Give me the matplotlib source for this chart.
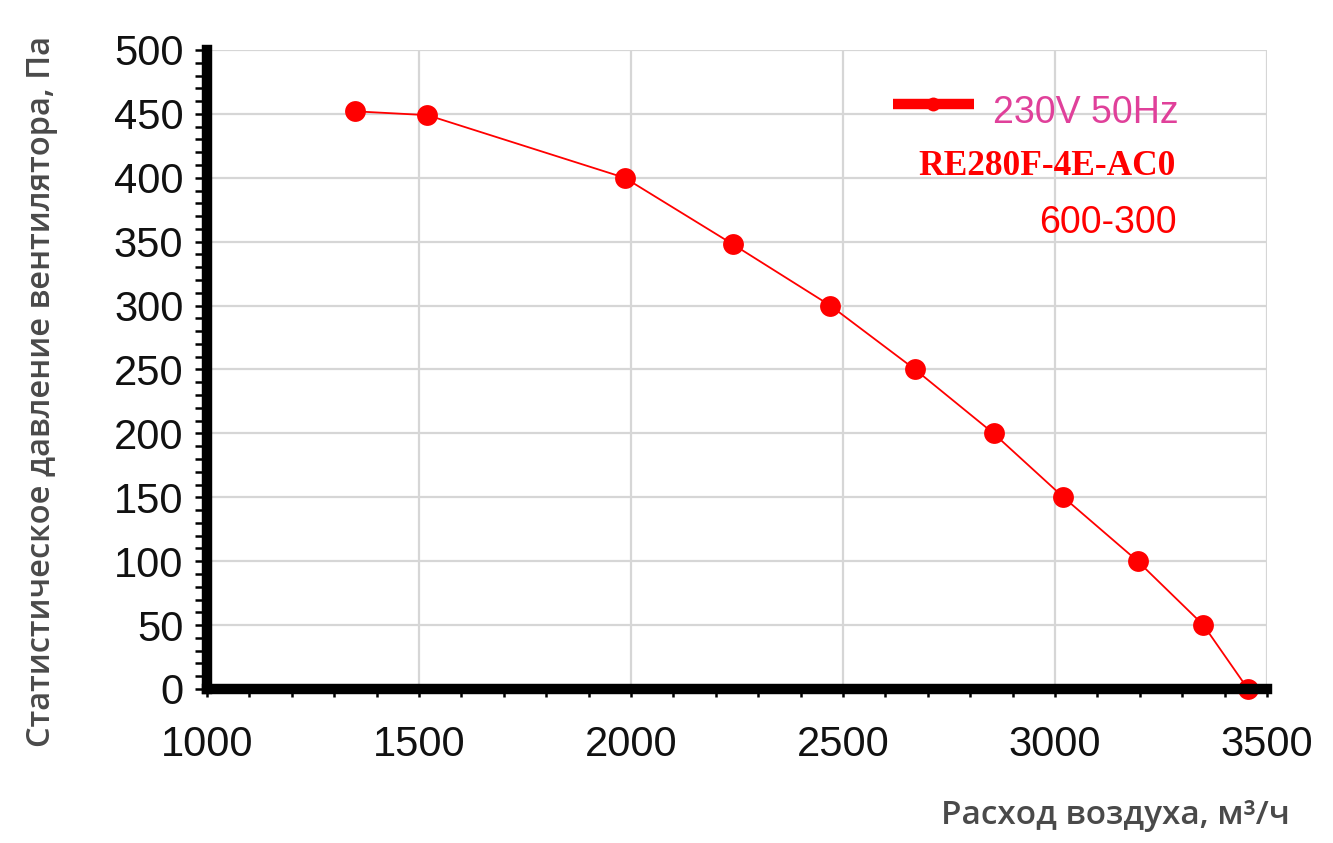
import matplotlib.pyplot as plt
from matplotlib.ticker import MultipleLocator

# Точки характеристики вентилятора RE280F-4E-AC0 (230V 50Hz)
rashod = [1350, 1520, 1985, 2240, 2470, 2670, 2855, 3020, 3195, 3350, 3455]
davlenie = [452, 449, 400, 348, 300, 250, 200, 150, 100, 50, 0]

x_ticks = [1000, 1500, 2000, 2500, 3000, 3500]
y_ticks = [0, 50, 100, 150, 200, 250, 300, 350, 400, 450, 500]

fig = plt.figure(figsize=(13.33, 8.43), dpi=100)
ax = fig.add_axes([0.1553, 0.1827, 0.7952, 0.758])

ax.plot(rashod, davlenie, color='#ff0000', linewidth=1.3, marker='o',
        markersize=15, markeredgewidth=0, zorder=3, clip_on=False)

ax.set_xlim(1000, 3500)
ax.set_ylim(0, 500)
ax.set_xticks(x_ticks)
ax.set_yticks(y_ticks)
ax.xaxis.set_minor_locator(MultipleLocator(100))
ax.yaxis.set_minor_locator(MultipleLocator(10))

ax.grid(True, which='major', color='#d6d6d6', linewidth=1.6, zorder=0)
ax.set_axisbelow(True)

for s in ['top', 'right']:
    ax.spines[s].set_visible(False)
for s in ['left', 'bottom']:
    ax.spines[s].set_linewidth(7.5)
    ax.spines[s].set_color('black')
    ax.spines[s].set_zorder(4)

ax.tick_params(axis='y', which='both', direction='out', length=9, width=1.8,
               pad=8, labelsize=30, color='black')
ax.tick_params(axis='x', which='both', direction='out', length=6, width=1.8,
               pad=20, labelsize=30, color='black')
for lbl in ax.get_xticklabels() + ax.get_yticklabels():
    lbl.set_family('Liberation Sans')
    lbl.set_color('#111111')

# Подписи осей
fig.text(0.031, 0.535, 'Статистическое давление вентилятора, Па', rotation=90,
         ha='center', va='center', fontsize=23.5, fontweight='semibold',
         family='Open Sans', color='#4a4a4a')
fig.text(0.968, 0.022, 'Расход воздуха, м³/ч', ha='right', va='baseline',
         fontsize=24, fontweight='semibold', family='Open Sans', color='#4a4a4a')

# Легенда
fig.add_artist(plt.Line2D([0.670, 0.731], [0.877, 0.877], color='#ff0000',
                          linewidth=7.5, solid_capstyle='butt'))
fig.add_artist(plt.Line2D([0.700], [0.877], color='#ff0000', marker='o',
                          markersize=10, markeredgewidth=0))
fig.text(0.884, 0.854, '230V 50Hz', ha='right', va='baseline', fontsize=27,
         family='Liberation Sans', color='#e0409a')
fig.text(0.882, 0.792, 'RE280F-4E-AC0', ha='right', va='baseline', fontsize=25.5,
         family='Liberation Serif', fontweight='bold', color='#ff0000')
fig.text(0.883, 0.724, '600-300', ha='right', va='baseline', fontsize=27,
         family='Liberation Sans', color='#ff0000')

plt.savefig('out.png', dpi=100)
